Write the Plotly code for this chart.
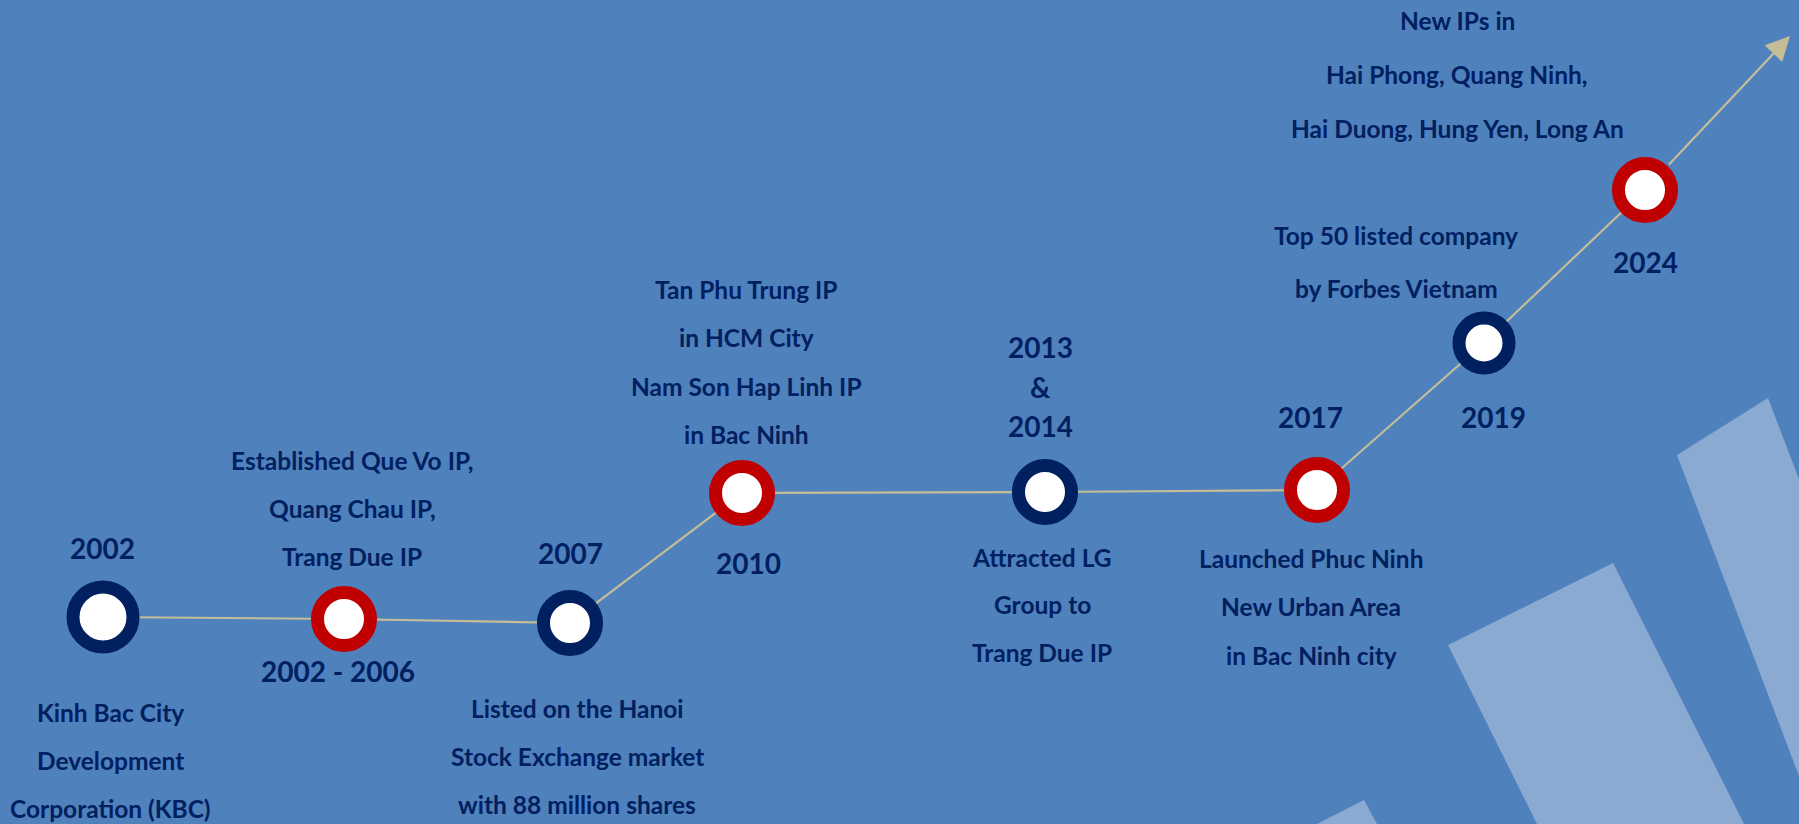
import plotly.graph_objects as go

# ---------------- data ----------------
stage_labels = ["2002", "2002 - 2006", "2007", "2010", "2013|&|2014", "2017", "2019", "2024"]
stage_pos = [103, 344, 570, 742, 1045, 1317, 1484, 1645]        # position along the timeline
stage_level = [617, 619, 623, 493, 492, 490, 343, 190]          # growth level (screen units, top = 0)
stage_kind = ["navy", "red", "navy", "red", "navy", "red", "navy", "red"]
stage_text = [
    ["Kinh Bac City", "Development", "Corporation (KBC)"],
    ["Established Que Vo IP,", "Quang Chau IP,", "Trang Due IP"],
    ["Listed on the Hanoi", "Stock Exchange market", "with 88 million shares"],
    ["Tan Phu Trung IP", "in HCM City", "Nam Son Hap Linh IP", "in Bac Ninh"],
    ["Attracted LG", "Group to", "Trang Due IP"],
    ["Launched Phuc Ninh", "New Urban Area", "in Bac Ninh city"],
    ["Top 50 listed company", "by Forbes Vietnam"],
    ["New IPs in", "Hai Phong, Quang Ninh,", "Hai Duong, Hung Yen, Long An"],
]

# ---------------- layout / style ----------------
W, H = 1799, 824
BG = "#4F81BD"
NAVY = "#002060"
RED = "#C00000"
TAN = "#C4BD97"
SHAPE = "#8AAAD1"
FONT = "Lato"

ring_color = {"navy": NAVY, "red": RED}
ring_size = [60, 53, 53, 53, 53, 53, 50, 53]
ring_width = [13, 13, 13, 13, 13, 13, 13, 13]

# label offsets relative to the marker: (dx, dy of first line, line spacing)
year_off = [(-1, -69, 0), (-6, 52, 0), (0, -70, 0), (6, 70, 0),
            (-5, -145, 39.5), (-7, -73, 0), (9, 74, 0), (0, 72, 0)]
desc_off = [(7, 95, 48), (8, -159, 48), (7, 85, 48), (4, -204, 48.5),
            (-3, 65, 47.5), (-6, 68, 48.5), (-88, -108, 53), (-188, -170, 54)]
arrow_tip = (1790, 36)

fig = go.Figure()

# connector line
fig.add_trace(go.Scatter(
    x=stage_pos, y=stage_level, mode="lines",
    line=dict(color=TAN, width=2.2), hoverinfo="skip", showlegend=False))

# ring markers
fig.add_trace(go.Scatter(
    x=stage_pos, y=stage_level, mode="markers",
    marker=dict(size=ring_size, color="white", opacity=1,
                line=dict(color=[ring_color[k] for k in stage_kind], width=ring_width)),
    hoverinfo="skip", showlegend=False))

annotations = []
# arrow continuing from last stage
annotations.append(dict(
    x=arrow_tip[0], y=arrow_tip[1], ax=stage_pos[-1], ay=stage_level[-1],
    xref="x", yref="y", axref="x", ayref="y", text="",
    showarrow=True, arrowhead=2, arrowsize=2.2, arrowwidth=2.2,
    arrowcolor=TAN, startstandoff=33))

for i, lab in enumerate(stage_labels):
    dx, dy, sp = year_off[i]
    for j, line in enumerate(lab.split("|")):
        annotations.append(dict(
            x=stage_pos[i] + dx, y=stage_level[i] + dy + j * sp,
            xref="x", yref="y", text=line, showarrow=False,
            xanchor="center", yanchor="middle",
            font=dict(family=FONT, size=28, color=NAVY, weight="bold")))
    dx, dy, sp = desc_off[i]
    for j, line in enumerate(stage_text[i]):
        annotations.append(dict(
            x=stage_pos[i] + dx, y=stage_level[i] + dy + j * sp,
            xref="x", yref="y", text=line, showarrow=False,
            xanchor="center", yanchor="middle",
            font=dict(family=FONT, size=24.5, color=NAVY, weight="bold")))

shapes = [
    dict(type="path", path="M1448,645 L1613,563 L1744,824 L1537,824 Z",
         xref="x", yref="y", fillcolor=SHAPE, line=dict(width=0), layer="below"),
    dict(type="path", path="M1677,455 L1768,398 L1799,479 L1799,776 Z",
         xref="x", yref="y", fillcolor=SHAPE, line=dict(width=0), layer="below"),
    dict(type="path", path="M1317,824 L1364,800 L1377,824 Z",
         xref="x", yref="y", fillcolor=SHAPE, line=dict(width=0), layer="below"),
]

fig.update_layout(
    width=W, height=H, margin=dict(l=0, r=0, t=0, b=0),
    paper_bgcolor=BG, plot_bgcolor=BG,
    xaxis=dict(range=[0, W], visible=False, fixedrange=True),
    yaxis=dict(range=[H, 0], visible=False, fixedrange=True),
    annotations=annotations, shapes=shapes, showlegend=False,
)

fig.write_html("out.html", config={"displayModeBar": False},
               post_script="document.body.style.margin='0';document.body.style.overflow='hidden';")
